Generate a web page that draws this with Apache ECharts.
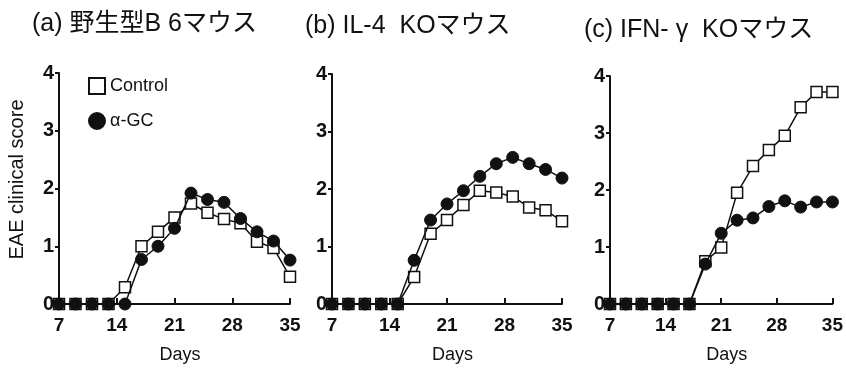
<!DOCTYPE html>
<html>
<head>
<meta charset="utf-8">
<script src="https://cdn.jsdelivr.net/npm/echarts@6/dist/echarts.min.js"></script>
<style>
html, body { margin: 0; padding: 0; background: #fff; }
#main { width: 846px; height: 369px; }
</style>
</head>
<body>
<div id="main"></div>
<script>
// days of observation (shared by all panels)
var days = [7, 9, 11, 13, 15, 17, 19, 21, 23, 25, 27, 29, 31, 33, 35];
var xTicks = [7, 14, 21, 28, 35];
var yTicks = [0, 1, 2, 3, 4];

var panelTitles = ['(a) 野生型B 6マウス', '(b) IL-4  KOマウス', '(c) IFN- γ  KOマウス'];
var seriesNames = ['Control', 'α-GC'];

// (a) wild-type B6
var controlA = [0, 0, 0, 0, 0.29, 1.0, 1.25, 1.5, 1.74, 1.58, 1.47, 1.4, 1.08, 0.97, 0.47];
var agcA = [0, 0, 0, 0, 0, 0.77, 1.0, 1.31, 1.92, 1.81, 1.76, 1.48, 1.25, 1.09, 0.76];
// (b) IL-4 KO
var controlB = [0, 0, 0, 0, 0, 0.47, 1.22, 1.46, 1.72, 1.97, 1.94, 1.87, 1.68, 1.63, 1.44];
var agcB = [0, 0, 0, 0, 0, 0.76, 1.46, 1.74, 1.97, 2.22, 2.44, 2.55, 2.44, 2.34, 2.19];
// (c) IFN-γ KO
var controlC = [0, 0, 0, 0, 0, 0, 0.75, 0.99, 1.95, 2.42, 2.7, 2.95, 3.45, 3.72, 3.72];
var agcC = [0, 0, 0, 0, 0, 0, 0.7, 1.24, 1.47, 1.51, 1.71, 1.81, 1.7, 1.79, 1.79];

var FONT = "'Liberation Sans', 'Noto Sans CJK JP', sans-serif";

var grids = [
  { left: 59, top: 73, width: 231, height: 232 },
  { left: 332, top: 74, width: 230, height: 233 },
  { left: 610, top: 76, width: 226, height: 234 }
];
var titleLeft = [32, 305, 584];
var titleTop = [12, 14, 18];

function pairs(vals) {
  return days.map(function (d, i) { return [d, vals[i]]; });
}

var xAxes = [], yAxes = [], series = [], titles = [];
var panels = [[controlA, agcA], [controlB, agcB], [controlC, agcC]];

panels.forEach(function (p, k) {
  titles.push({
    text: panelTitles[k],
    left: titleLeft[k],
    top: titleTop[k],
    padding: 0,
    textStyle: { fontFamily: FONT, fontSize: 25, fontWeight: 'normal', color: '#111' }
  });
  xAxes.push({
    gridIndex: k,
    type: 'value',
    min: 7,
    max: 35,
    interval: 7,
    name: 'Days',
    nameLocation: 'middle',
    nameGap: 42,
    nameTextStyle: { fontFamily: FONT, fontSize: 18, color: '#111', padding: [0, 0, 0, 11] },
    axisLine: { lineStyle: { color: '#111', width: 2 } },
    axisTick: { inside: true, length: 6, lineStyle: { color: '#111', width: 2 } },
    axisLabel: { fontFamily: FONT, fontSize: 19, fontWeight: 'bold', color: '#111', margin: 12 },
    splitLine: { show: false }
  });
  yAxes.push({
    gridIndex: k,
    type: 'value',
    min: 0,
    max: 4,
    interval: 1,
    name: k === 0 ? 'EAE clinical score' : '',
    nameLocation: 'middle',
    nameRotate: 90,
    nameGap: 32,
    nameTextStyle: { fontFamily: FONT, fontSize: 20, color: '#111', padding: [0, 0, 0, 18] },
    axisLine: { show: true, lineStyle: { color: '#111', width: 2 } },
    axisTick: { show: true, length: 4, lineStyle: { color: '#111', width: 2 } },
    axisLabel: { fontFamily: FONT, fontSize: 20, fontWeight: 'bold', color: '#111', margin: 5 },
    splitLine: { show: false }
  });
  series.push({
    name: seriesNames[0],
    type: 'line',
    xAxisIndex: k,
    yAxisIndex: k,
    data: pairs(p[0]),
    symbol: 'rect',
    symbolSize: 11,
    lineStyle: { color: '#111', width: 1.5 },
    itemStyle: { color: '#fff', borderColor: '#111', borderWidth: 1.5 },
    z: 2
  });
  series.push({
    name: seriesNames[1],
    type: 'line',
    xAxisIndex: k,
    yAxisIndex: k,
    data: pairs(p[1]),
    symbol: 'circle',
    symbolSize: 12,
    lineStyle: { color: '#111', width: 1.5 },
    itemStyle: { color: '#111', borderColor: '#111', borderWidth: 1 },
    z: 3
  });
});

var chart = echarts.init(document.getElementById('main'));
chart.setOption({
  backgroundColor: '#fff',
  animation: false,
  title: titles,
  grid: grids,
  xAxis: xAxes,
  yAxis: yAxes,
  legend: {
    orient: 'vertical',
    left: 83,
    top: 72,
    itemWidth: 16,
    itemHeight: 16,
    itemGap: 17,
    textStyle: { fontFamily: FONT, fontSize: 18, color: '#111' },
    data: [
      { name: 'Control', icon: 'rect' },
      { name: 'α-GC', icon: 'circle' }
    ]
  },
  series: series
});
</script>
</body>
</html>
